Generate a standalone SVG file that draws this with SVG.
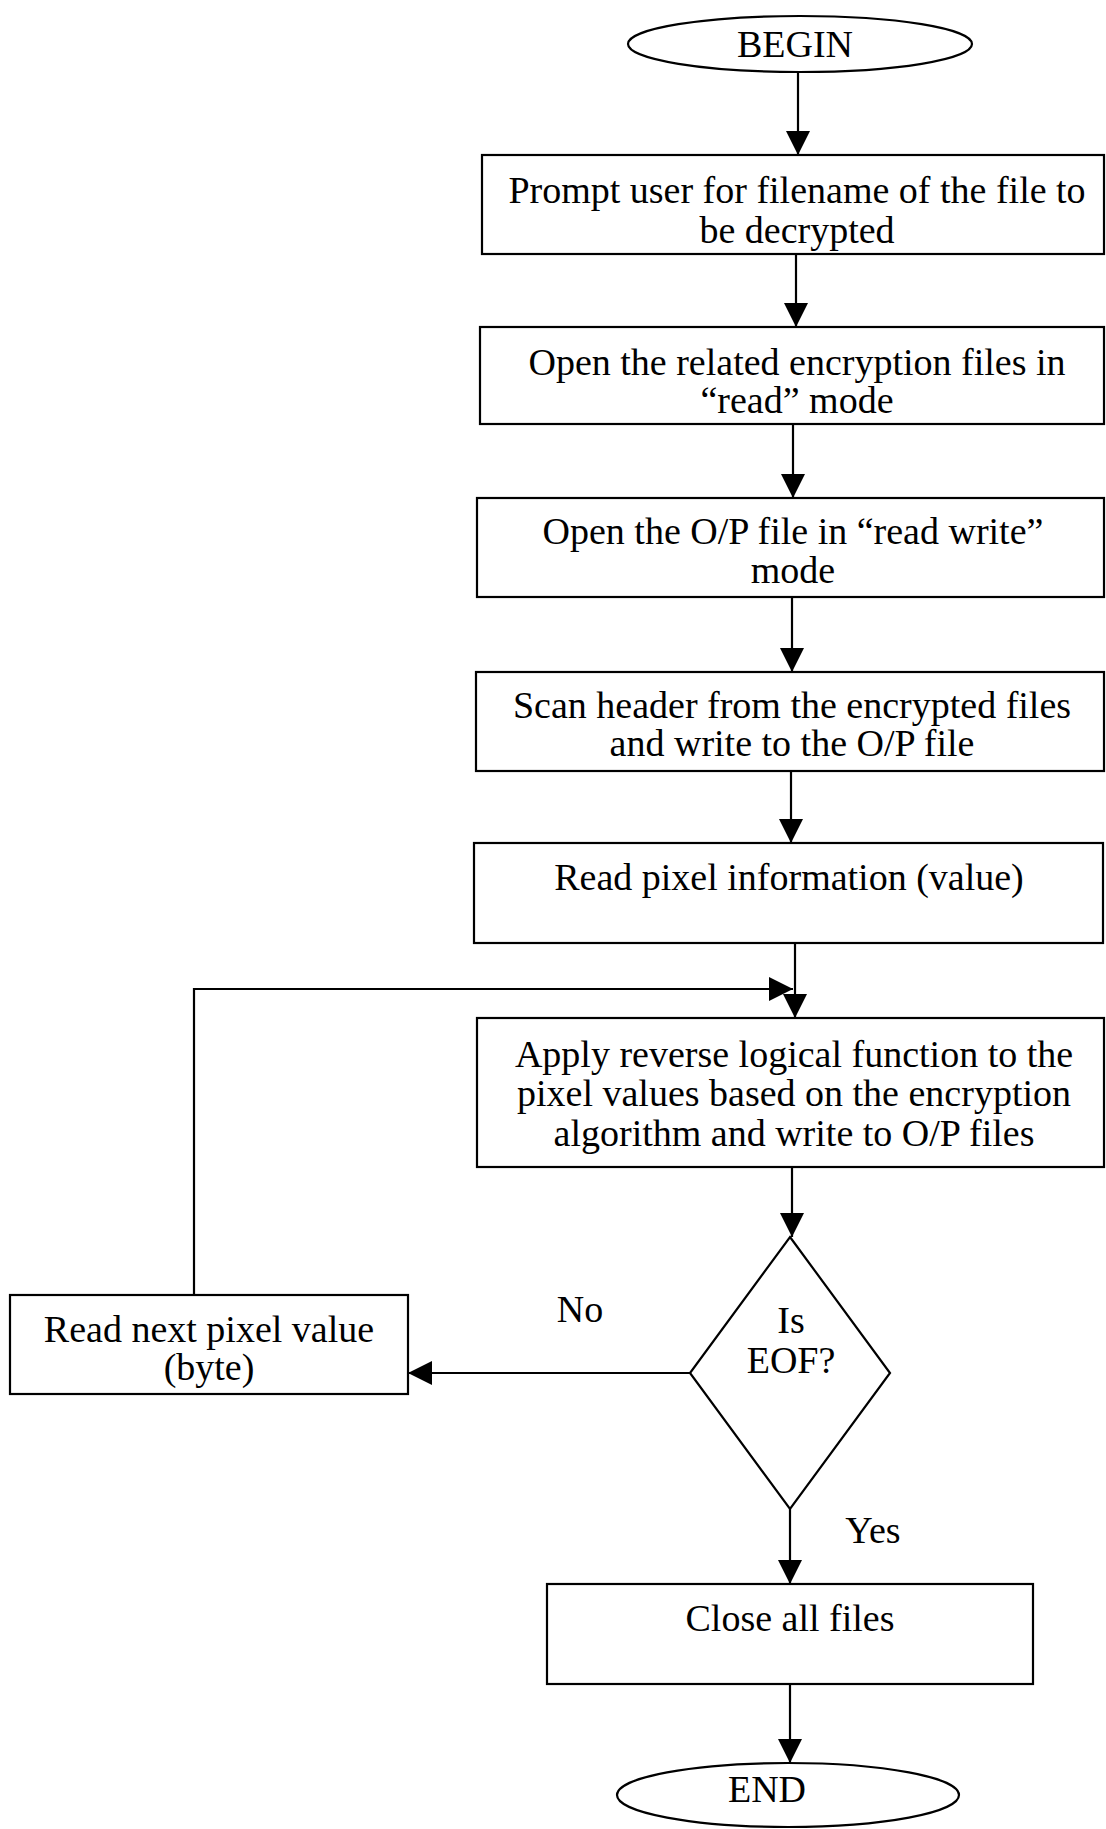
<svg xmlns="http://www.w3.org/2000/svg" width="1106" height="1829" viewBox="0 0 1106 1829">
<style>
.n{fill:#fff;stroke:#000;stroke-width:2.2}
.t{font-family:"Liberation Serif","Times New Roman",serif;font-size:38px;fill:#000;text-anchor:middle}
.c{fill:none;stroke:#000;stroke-width:2.2}
</style>
<defs>
<marker id="ah" markerUnits="userSpaceOnUse" markerWidth="26" markerHeight="24" refX="24" refY="12" orient="auto">
<path d="M0,0 L24,12 L0,24 Z" fill="#000"/>
</marker>
</defs>
<rect width="1106" height="1829" fill="#fff"/>
<g id="connectors">
<line class="c" x1="798" y1="72" x2="798" y2="155" marker-end="url(#ah)"/>
<line class="c" x1="796" y1="254" x2="796" y2="327" marker-end="url(#ah)"/>
<line class="c" x1="793" y1="424" x2="793" y2="498" marker-end="url(#ah)"/>
<line class="c" x1="792" y1="597" x2="792" y2="672" marker-end="url(#ah)"/>
<line class="c" x1="791" y1="771" x2="791" y2="843" marker-end="url(#ah)"/>
<line class="c" x1="795" y1="943" x2="795" y2="1018" marker-end="url(#ah)"/>
<polyline class="c" points="194,1295 194,989 793,989" marker-end="url(#ah)"/>
<line class="c" x1="792" y1="1167" x2="792" y2="1237" marker-end="url(#ah)"/>
<line class="c" x1="690" y1="1373" x2="408" y2="1373" marker-end="url(#ah)"/>
<line class="c" x1="790" y1="1509" x2="790" y2="1584" marker-end="url(#ah)"/>
<line class="c" x1="790" y1="1684" x2="790" y2="1763" marker-end="url(#ah)"/>
<text class="t" x="580" y="1322">No</text>
<text class="t" x="873" y="1543">Yes</text>
</g>
<g id="begin">
<ellipse class="n" cx="800" cy="44" rx="172" ry="28"/>
<text class="t" x="795" y="57">BEGIN</text>
</g>
<g id="prompt">
<rect class="n" x="482" y="155" width="622" height="99"/>
<text class="t" x="797" y="203">Prompt user for filename of the file to</text>
<text class="t" x="797" y="243">be decrypted</text>
</g>
<g id="open-enc">
<rect class="n" x="480" y="327" width="624" height="97"/>
<text class="t" x="797" y="375">Open the related encryption files in</text>
<text class="t" x="797" y="413">“read” mode</text>
</g>
<g id="open-op">
<rect class="n" x="477" y="498" width="627" height="99"/>
<text class="t" x="793" y="544">Open the O/P file in “read write”</text>
<text class="t" x="793" y="583">mode</text>
</g>
<g id="scan">
<rect class="n" x="476" y="672" width="628" height="99"/>
<text class="t" x="792" y="718">Scan header from the encrypted files</text>
<text class="t" x="792" y="756">and write to the O/P file</text>
</g>
<g id="read-pixel">
<rect class="n" x="474" y="843" width="629" height="100"/>
<text class="t" x="789" y="890">Read pixel information (value)</text>
</g>
<g id="apply">
<rect class="n" x="477" y="1018" width="627" height="149"/>
<text class="t" x="794" y="1067">Apply reverse logical function to the</text>
<text class="t" x="794" y="1106">pixel values based on the encryption</text>
<text class="t" x="794" y="1146">algorithm and write to O/P files</text>
</g>
<g id="eof">
<polygon class="n" points="790,1237 890,1373 790,1509 690,1373"/>
<text class="t" x="791" y="1333">Is</text>
<text class="t" x="791" y="1373">EOF?</text>
</g>
<g id="read-next">
<rect class="n" x="10" y="1295" width="398" height="99"/>
<text class="t" x="209" y="1342">Read next pixel value</text>
<text class="t" x="209" y="1380">(byte)</text>
</g>
<g id="close">
<rect class="n" x="547" y="1584" width="486" height="100"/>
<text class="t" x="790" y="1631">Close all files</text>
</g>
<g id="end">
<ellipse class="n" cx="788" cy="1795" rx="171" ry="32"/>
<text class="t" x="767" y="1802">END</text>
</g>
</svg>
